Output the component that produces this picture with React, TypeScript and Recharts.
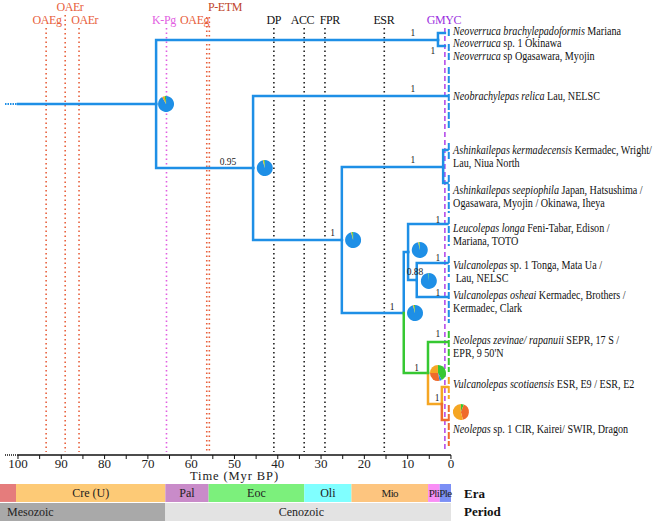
import React from "react";
import { ComposedChart, Line, Scatter, XAxis, YAxis, ReferenceLine, ReferenceArea } from "recharts";

const FONT = "Liberation Serif, Times New Roman, Times, serif";

const COLORS: Record<string, string> = {
  blue: "#1e8fe6",
  green: "#36c832",
  orange: "#f5a623",
  red: "#ef6a2c",
};

// time axis (Myr BP), reversed; extra room on the right holds tip names
const AGE_DOMAIN: [number, number] = [-46.9, 103];
const AXIS_TICKS = [0, 5, 10, 15, 20, 25, 30, 35, 40, 45, 50, 55, 60, 65, 70, 75, 80, 85, 90, 95, 100];
const ROOT_STEM = [103, 100];

// internal nodes: age of split and vertical layout position (0 = top, 455 = axis)
const nodes = [
  { id: "root", parent: "", age: 100, pos: 104, color: "blue" },
  { id: "A", parent: "root", age: 68.1, pos: 104, color: "blue" },
  { id: "Nv", parent: "A", age: 3.0, pos: 40, color: "blue" },
  { id: "B", parent: "A", age: 45.7, pos: 168, color: "blue" },
  { id: "C", parent: "B", age: 25.2, pos: 240, color: "blue" },
  { id: "Ak", parent: "C", age: 1.8, pos: 167, color: "blue" },
  { id: "D", parent: "C", age: 10.9, pos: 313, color: "blue" },
  { id: "E", parent: "D", age: 9.9, pos: 252, color: "blue" },
  { id: "F", parent: "E", age: 7.9, pos: 280, color: "blue" },
  { id: "G", parent: "D", age: 5.3, pos: 373, color: "green" },
  { id: "H", parent: "G", age: 2.1, pos: 404, color: "orange" },
];

// terminal clades: crown age, stem position and spread of the sampled tips
const tips = [
  { id: "nbra", parent: "Nv", age: 1.4, pos: 33, lo: 29, hi: 37, color: "blue" },
  { id: "nsp", parent: "Nv", age: 1.4, pos: 46, lo: 44, hi: 62, color: "blue" },
  { id: "nrel", parent: "B", age: 0.8, pos: 96, lo: 67, hi: 128, color: "blue" },
  { id: "aker", parent: "Ak", age: 0.8, pos: 150, lo: 143, hi: 161, color: "blue" },
  { id: "asee", parent: "Ak", age: 0.8, pos: 183, lo: 175, hi: 213, color: "blue" },
  { id: "llon", parent: "E", age: 0.8, pos: 224, lo: 217, hi: 246, color: "blue" },
  { id: "vsp1", parent: "F", age: 0.8, pos: 263, lo: 256, hi: 277, color: "blue" },
  { id: "vosh", parent: "F", age: 0.8, pos: 297, lo: 283, hi: 323, color: "blue" },
  { id: "nzev", parent: "G", age: 0.8, pos: 342, lo: 331, hi: 372, color: "green" },
  { id: "vsco", parent: "H", age: 0.8, pos: 387, lo: 377, hi: 399, color: "orange" },
  { id: "nsp1", parent: "H", age: 0.8, pos: 420, lo: 405, hi: 446, color: "red" },
];
const TIP_BAR_AGE = 0.5;

const tipLabels = [
  { age: -0.5, pos: 31, italic: "Neoverruca brachylepadoformis", rest: " Mariana", line2: "" },
  { age: -0.5, pos: 43, italic: "Neoverruca", rest: " sp. 1 Okinawa", line2: "" },
  { age: -0.5, pos: 56, italic: "Neoverruca", rest: " sp Ogasawara, Myojin", line2: "" },
  { age: -0.5, pos: 96, italic: "Neobrachylepas relica", rest: " Lau, NELSC", line2: "" },
  { age: -0.5, pos: 150, italic: "Ashinkailepas kermadecensis", rest: " Kermadec, Wright/", line2: "Lau, Niua North" },
  { age: -0.5, pos: 190, italic: "Ashinkailepas seepiophila", rest: " Japan, Hatsushima /", line2: "Ogasawara, Myojin / Okinawa, Iheya" },
  { age: -0.5, pos: 228, italic: "Leucolepas longa", rest: " Feni-Tabar, Edison /", line2: "Mariana, TOTO" },
  { age: -0.5, pos: 265, italic: "Vulcanolepas", rest: " sp. 1 Tonga, Mata Ua /", line2: " Lau, NELSC" },
  { age: -0.5, pos: 295, italic: "Vulcanolepas osheai", rest: " Kermadec, Brothers /", line2: "Kermadec, Clark" },
  { age: -0.5, pos: 340, italic: "Neolepas zevinae/ rapanuii", rest: " SEPR, 17 S /", line2: "EPR, 9 50'N" },
  { age: -0.5, pos: 384, italic: "Vulcanolepas scotiaensis", rest: " ESR, E9 / ESR, E2", line2: "" },
  { age: -0.5, pos: 429, italic: "Neolepas", rest: " sp. 1 CIR, Kairei/ SWIR, Dragon", line2: "" },
];

const supportValues = [
  { age: 8.8, pos: 33, text: "1" },
  { age: 4.2, pos: 51, text: "1" },
  { age: 8.8, pos: 89, text: "1" },
  { age: 51.5, pos: 162, text: "0.95" },
  { age: 27.3, pos: 233, text: "1" },
  { age: 8.8, pos: 160, text: "1" },
  { age: 3.0, pos: 220, text: "1" },
  { age: 3.0, pos: 258, text: "1" },
  { age: 8.3, pos: 272, text: "0.88" },
  { age: 3.0, pos: 293, text: "1" },
  { age: 13.6, pos: 307, text: "1" },
  { age: 3.0, pos: 334, text: "1" },
  { age: 7.9, pos: 368, text: "1" },
  { age: 3.2, pos: 398, text: "1" },
];

// ancestral-area pies, shares clockwise from 12 o'clock
const pies = [
  { age: 65.8, pos: 104, shares: [["blue", 0.92], ["orange", 0.05], ["green", 0.03]] },
  { age: 43.0, pos: 168, shares: [["blue", 0.96], ["orange", 0.02], ["green", 0.02]] },
  { age: 22.6, pos: 240, shares: [["blue", 0.96], ["orange", 0.02], ["green", 0.02]] },
  { age: 8.3, pos: 313, shares: [["blue", 0.96], ["orange", 0.02], ["green", 0.02]] },
  { age: 7.2, pos: 250, shares: [["blue", 0.97], ["orange", 0.015], ["green", 0.015]] },
  { age: 5.1, pos: 281, shares: [["blue", 0.99], ["green", 0.01]] },
  { age: 3.0, pos: 373, shares: [["green", 0.42], ["blue", 0.05], ["red", 0.28], ["orange", 0.25]] },
  { age: -2.3, pos: 412, shares: [["green", 0.06], ["red", 0.4], ["orange", 0.54]] },
];

const events = [
  { name: "OAEg", age: 93.5, top: 28, labelAge: 93.3, row: 1, color: "#e8603c", lineColor: "#e8603c" },
  { name: "OAEr", age: 89.1, top: 15, labelAge: 88.0, row: 0, color: "#e8603c", lineColor: "#e8603c" },
  { name: "OAEr", age: 85.9, top: 28, labelAge: 84.6, row: 1, color: "#e8603c", lineColor: "#e8603c" },
  { name: "K-Pg", age: 65.7, top: 28, labelAge: 66.3, row: 1, color: "#e25fe2", lineColor: "#e25fe2" },
  { name: "OAEg", age: 56.4, top: 17, labelAge: 59.2, row: 1, color: "#e8603c", lineColor: "#e8603c" },
  { name: "P-ETM", age: 55.8, top: 17, labelAge: 52.2, row: 0, color: "#c0452c", lineColor: "#e8603c" },
  { name: "DP", age: 40.9, top: 28, labelAge: 40.9, row: 1, color: "#111", lineColor: "#222" },
  { name: "ACC", age: 33.9, top: 28, labelAge: 34.3, row: 1, color: "#111", lineColor: "#222" },
  { name: "FPR", age: 29.1, top: 28, labelAge: 28.0, row: 1, color: "#111", lineColor: "#222" },
  { name: "ESR", age: 15.4, top: 28, labelAge: 15.5, row: 1, color: "#111", lineColor: "#222" },
  { name: "GMYC", age: 1.4, top: 28, labelAge: 1.6, row: 1, color: "#9b30e0", lineColor: "#b040e8" },
];

// geological time bars
const eraNames = ["", "Cre (U)", "Pal", "Eoc", "Oli", "Mio", "Pli", "Ple"];
const eraFrom = [104.2, 100.5, 66, 56, 33.9, 23, 5.3, 2.6];
const eraTo = [100.5, 66, 56, 33.9, 23, 5.3, 2.6, 0];
const eraColors = ["#e57c7c", "#fdca76", "#c98bc9", "#7cf07c", "#80ffff", "#fdc57f", "#f98ef5", "#7b8ff5"];
const periodNames = ["Mesozoic", "Cenozoic"];
const periodFrom = [104.2, 66];
const periodTo = [66, 0];
const periodColors = ["#a9a9a9", "#e3e3e3"];
const rowLabels = [
  { age: -3, pos: 0.5, text: "Era" },
  { age: -3, pos: 1.5, text: "Period" },
];

function branchLines() {
  const byId: Record<string, { age: number; pos: number }> = {};
  nodes.forEach((n) => (byId[n.id] = n));
  const out: { key: string; color: string; data: { age: number; pos: number }[] }[] = [];
  [...nodes, ...tips].forEach((c) => {
    const p = byId[c.parent];
    if (!p) return;
    out.push({
      key: c.id,
      color: COLORS[c.color],
      data: [
        { age: p.age, pos: p.pos },
        { age: p.age, pos: c.pos },
        { age: c.age, pos: c.pos },
      ],
    });
  });
  return out;
}

function PieMark(props: any) {
  const { cx, cy, payload } = props;
  const r = 8;
  let a0 = -Math.PI / 2;
  return (
    <g>
      {payload.shares.map(([color, share]: [string, number], i: number) => {
        const a1 = a0 + share * 2 * Math.PI;
        const large = a1 - a0 > Math.PI ? 1 : 0;
        const d = `M${cx},${cy} L${cx + r * Math.cos(a0)},${cy + r * Math.sin(a0)} A${r},${r} 0 ${large} 1 ${cx + r * Math.cos(a1)},${cy + r * Math.sin(a1)} Z`;
        a0 = a1;
        return <path key={i} d={d} fill={COLORS[color]} />;
      })}
    </g>
  );
}

function TipLabel(props: any) {
  const { cx, cy, payload } = props;
  return (
    <g transform={`translate(${cx},${cy}) scale(0.81,1)`} style={{ fontFamily: FONT, fontSize: 12.5 }} fill="#111">
      <text x={0} y={0} dy="0.35em">
        <tspan fontStyle="italic">{payload.italic}</tspan>
        {payload.rest}
      </text>
      {payload.line2 ? (
        <text x={0} y={13} dy="0.35em" style={{ whiteSpace: "pre" }}>
          {payload.line2}
        </text>
      ) : null}
    </g>
  );
}

function SupportLabel(props: any) {
  const { cx, cy, payload } = props;
  return (
    <text x={cx} y={cy} dy="0.35em" textAnchor="middle" style={{ fontFamily: FONT, fontSize: 9.5 }} fill="#222">
      {payload.text}
    </text>
  );
}

function EventLabel(props: any) {
  const { cx, cy, payload } = props;
  return (
    <text x={cx} y={cy} dy="0.35em" textAnchor="middle" style={{ fontFamily: FONT, fontSize: 12, letterSpacing: -0.4 }} fill={payload.color}>
      {payload.name}
    </text>
  );
}

function RowLabel(props: any) {
  const { cx, cy, payload } = props;
  return (
    <text x={cx} y={cy} dy="0.35em" style={{ fontFamily: FONT, fontSize: 13, fontWeight: "bold" }} fill="#111">
      {payload.text}
    </text>
  );
}

export default function App() {
  const branches = branchLines();
  const eventLabels = events.map((e) => ({ ...e, age: e.labelAge, pos: e.row === 0 ? 7 : 20 }));

  return (
    <div style={{ position: "absolute", left: 0, top: 0, width: 654, height: 521, background: "#fff", fontFamily: FONT }}>
      <ComposedChart width={654} height={483} margin={{ top: 0, right: 0, left: 5, bottom: 0 }} style={{ fontFamily: FONT, overflow: "visible" }}>
        <XAxis
          type="number"
          dataKey="age"
          domain={AGE_DOMAIN}
          reversed
          allowDataOverflow
          ticks={AXIS_TICKS}
          interval={0}
          tickFormatter={(v: number) => (v % 10 === 0 ? String(v) : "")}
          axisLine={false}
          tickLine={{ stroke: "#111" }}
          tickSize={4}
          tickMargin={0}
          height={28}
          tick={{ fontFamily: FONT, fontSize: 13, fill: "#222" }}
          label={{ value: "Time (Myr BP)", position: "insideBottom", offset: 3, dx: -95, fontFamily: FONT, fontSize: 12.5, letterSpacing: 0.9, fill: "#222" }}
        />
        <YAxis type="number" dataKey="pos" domain={[0, 455]} reversed allowDataOverflow hide />

        {events.map((e, i) => (
          <ReferenceLine
            key={"ev" + i}
            segment={[{ x: e.age, y: e.top }, { x: e.age, y: 452 }]}
            stroke={e.lineColor}
            strokeWidth={e.name === "GMYC" ? 1.5 : 1.6}
            strokeDasharray={e.name === "GMYC" ? "5 3" : "1.5 3"}
            ifOverflow="visible"
          />
        ))}

        <ReferenceLine segment={[{ x: AXIS_TICKS[AXIS_TICKS.length - 1], y: 455 }, { x: 0, y: 455 }]} stroke="#111" strokeWidth={1.5} ifOverflow="visible" />
        <ReferenceLine segment={[{ x: ROOT_STEM[0], y: 455 }, { x: ROOT_STEM[1], y: 455 }]} stroke="#111" strokeWidth={1.5} strokeDasharray="1 1" ifOverflow="visible" />
        <ReferenceLine
          segment={[{ x: ROOT_STEM[0], y: nodes[0].pos }, { x: ROOT_STEM[1], y: nodes[0].pos }]}
          stroke={COLORS.blue}
          strokeWidth={2}
          strokeDasharray="1.5 1"
          ifOverflow="visible"
        />

        {branches.map((b) => (
          <Line
            key={b.key}
            data={b.data}
            dataKey="pos"
            type="linear"
            stroke={b.color}
            strokeWidth={2.5}
            strokeLinecap="square"
            strokeLinejoin="miter"
            dot={false}
            activeDot={false}
            isAnimationActive={false}
          />
        ))}

        {tips.map((t) => (
          <ReferenceLine
            key={"tb" + t.id}
            segment={[{ x: TIP_BAR_AGE, y: t.lo }, { x: TIP_BAR_AGE, y: t.hi }]}
            stroke={COLORS[t.color]}
            strokeWidth={2}
            strokeDasharray="7 2"
            ifOverflow="visible"
          />
        ))}

        <Scatter data={pies} shape={PieMark} isAnimationActive={false} />
        <Scatter data={supportValues} shape={SupportLabel} isAnimationActive={false} />
        <Scatter data={eventLabels} shape={EventLabel} isAnimationActive={false} />
        <Scatter data={tipLabels} shape={TipLabel} isAnimationActive={false} />
      </ComposedChart>

      <ComposedChart width={654} height={38} margin={{ top: 1, right: 0, left: 0, bottom: 0 }} style={{ fontFamily: FONT }}>
        <XAxis type="number" dataKey="age" domain={[-46.9, 104.2]} reversed allowDataOverflow hide />
        <YAxis type="number" dataKey="pos" domain={[0, 2]} reversed allowDataOverflow hide />
        {eraNames.map((name, i) => (
          <ReferenceArea
            key={"era" + i}
            x1={eraFrom[i]}
            x2={eraTo[i]}
            y1={0}
            y2={0.97}
            fill={eraColors[i]}
            fillOpacity={1}
            stroke="none"
            ifOverflow="visible"
            label={{ value: name, position: "center", fontFamily: FONT, fontSize: name.length === 3 && eraTo[i] < 6 ? 11 : 12, letterSpacing: eraTo[i] < 6 ? -0.6 : 0, fill: "#222" }}
          />
        ))}
        {periodNames.map((name, i) => (
          <ReferenceArea
            key={"per" + i}
            x1={periodFrom[i]}
            x2={periodTo[i]}
            y1={1.03}
            y2={2}
            fill={periodColors[i]}
            fillOpacity={1}
            stroke="none"
            ifOverflow="visible"
            label={
              i === 0
                ? { value: name, position: "insideLeft", offset: 7, fontFamily: FONT, fontSize: 12, fill: "#222" }
                : { value: name, position: "insideRight", offset: 127, fontFamily: FONT, fontSize: 12, fill: "#222" }
            }
          />
        ))}
        <Scatter data={rowLabels} shape={RowLabel} isAnimationActive={false} />
      </ComposedChart>
    </div>
  );
}
